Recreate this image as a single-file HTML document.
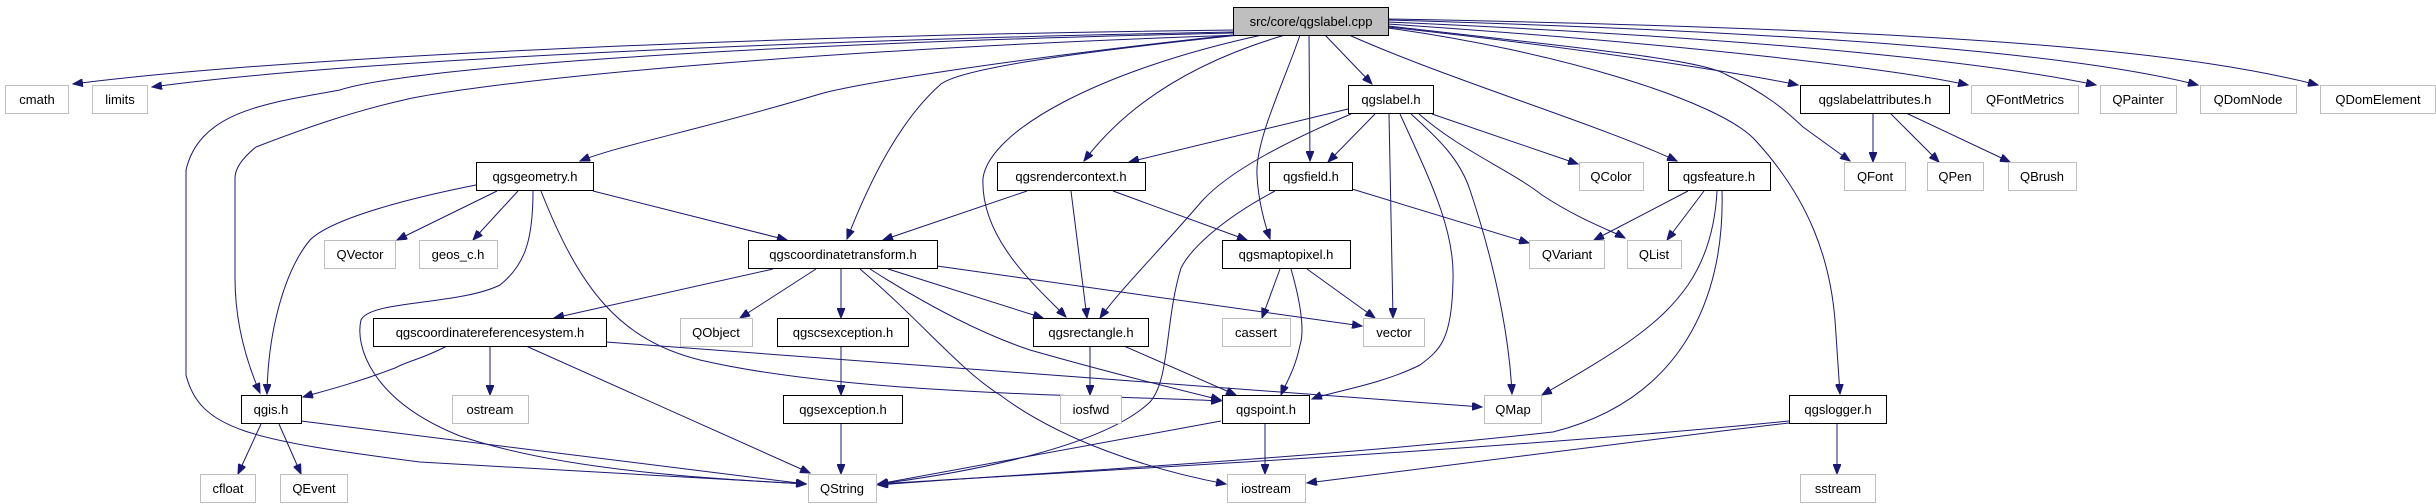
<!DOCTYPE html>
<html><head><meta charset="utf-8"><style>
html,body{margin:0;padding:0;background:#fff;}
svg{display:block;}
text{font-family:"Liberation Sans",sans-serif;font-size:13px;fill:#000;text-anchor:middle;}
.e{fill:none;stroke:#191970;stroke-width:1;marker-end:url(#a);}
.d{fill:#fff;stroke:#000;stroke-width:1;}
.l{fill:#fff;stroke:#bfbfbf;stroke-width:1;}
</style></head><body>
<svg width="2436" height="504" viewBox="0 0 2436 504" xmlns="http://www.w3.org/2000/svg">
<defs><marker id="a" markerUnits="userSpaceOnUse" markerWidth="11" markerHeight="8" refX="10" refY="4" orient="auto"><path d="M0,0 L10,4 L0,8 z" fill="#191970" stroke="#191970"/></marker></defs>
<g>
<!-- main edges -->
<path class="e" d="M1233,30 C800,35 300,55 73,84"/>
<path class="e" d="M1233,32 C800,40 350,60 152,87"/>
<path class="e" d="M1233,33 C700,45 400,70 340,90 C270,103 200,110 186,170 L186,375 C200,430 250,440 420,462 L806,484"/>
<path class="e" d="M1240,35 C800,50 500,80 408,99 C350,112 300,130 256,147 C240,160 235,170 235,178 L235,278 C235,330 250,370 260,393"/>
<path class="e" d="M1233,35 C1000,60 850,85 820,94 C700,130 620,145 580,161"/>
<path class="e" d="M1240,35 C1050,55 960,70 941,84 C900,120 870,180 847,239"/>
<path class="e" d="M1262,35 C1100,70 990,130 983,178 C980,240 1040,290 1066,317"/>
<path class="e" d="M1285,35 C1200,60 1130,100 1084,161"/>
<path class="e" d="M1300,35 C1285,80 1255,140 1257,175 C1258,200 1265,225 1270,239"/>
<path class="e" d="M1309,35 L1310,161"/>
<path class="e" d="M1325,35 L1372,84"/>
<path class="e" d="M1349,35 C1450,80 1600,125 1677,161"/>
<path class="e" d="M1388,28 C1550,50 1720,100 1756,141 C1810,200 1830,260 1835,320 L1840,394"/>
<path class="e" d="M1388,27 C1600,50 1750,75 1798,85"/>
<path class="e" d="M1388,26 C1600,50 1700,60 1725,74 C1770,95 1790,115 1803,127 L1850,161"/>
<path class="e" d="M1388,24 C1700,45 1900,70 1968,85"/>
<path class="e" d="M1388,22 C1800,40 2000,65 2096,85"/>
<path class="e" d="M1388,20 C1900,35 2100,60 2198,85"/>
<path class="e" d="M1388,19 C2000,30 2200,55 2318,85"/>
<!-- qgsgeometry -->
<path class="e" d="M497,191 L397,240"/>
<path class="e" d="M518,191 L473,240"/>
<path class="e" d="M593,191 L787,240"/>
<path class="e" d="M476,185 C400,200 330,220 310,240 C285,270 268,330 267,394"/>
<path class="e" d="M533,191 C533,240 525,265 500,285 C460,305 370,300 361,320 C355,345 370,400 460,436 C560,470 700,478 806,484"/>
<path class="e" d="M541,191 C580,290 620,340 700,360 C850,395 1100,395 1221,401"/>
<!-- qgscoordinatetransform -->
<path class="e" d="M773,269 L554,318"/>
<path class="e" d="M816,269 L740,318"/>
<path class="e" d="M841,269 L841,318"/>
<path class="e" d="M888,269 L1043,318"/>
<path class="e" d="M937,266 L1362,326"/>
<path class="e" d="M870,269 C950,320 1000,340 1030,350 C1100,370 1180,390 1221,400"/>
<path class="e" d="M860,269 C920,320 960,370 1000,395 C1060,440 1150,470 1226,484"/>
<!-- qgsrendercontext -->
<path class="e" d="M1027,191 L883,240"/>
<path class="e" d="M1071,191 L1087,318"/>
<path class="e" d="M1113,191 L1247,240"/>
<!-- qgslabel -->
<path class="e" d="M1348,109 L1129,162"/>
<path class="e" d="M1351,114 C1290,140 1230,170 1202,201 C1160,250 1120,290 1100,318"/>
<path class="e" d="M1375,114 L1328,162"/>
<path class="e" d="M1389,114 L1393,318"/>
<path class="e" d="M1400,114 C1430,180 1455,230 1453,280 C1452,340 1440,350 1420,365 C1380,385 1330,392 1312,399"/>
<path class="e" d="M1411,114 C1440,140 1460,160 1470,190 C1500,280 1510,350 1512,394"/>
<path class="e" d="M1432,114 L1578,164"/>
<path class="e" d="M1419,114 C1460,150 1510,170 1542,195 C1580,220 1610,230 1625,238"/>
<!-- qgsfield -->
<path class="e" d="M1352,189 L1529,243"/>
<path class="e" d="M1275,191 C1220,220 1190,250 1181,268 C1165,320 1170,380 1150,402 C1100,450 950,475 878,484"/>
<!-- qgsmaptopixel -->
<path class="e" d="M1280,269 L1262,318"/>
<path class="e" d="M1307,269 L1375,318"/>
<path class="e" d="M1291,269 C1300,300 1305,330 1300,345 C1295,370 1285,385 1281,395"/>
<!-- qgsfeature -->
<path class="e" d="M1688,191 L1594,240"/>
<path class="e" d="M1704,191 L1667,240"/>
<path class="e" d="M1717,191 C1715,230 1705,260 1688,285 C1660,325 1620,350 1542,395"/>
<path class="e" d="M1722,191 C1725,300 1680,400 1553,432 C1300,460 1000,475 878,485"/>
<!-- crs -->
<path class="e" d="M447,346 C420,360 410,360 395,368 C350,385 320,392 303,397"/>
<path class="e" d="M490,346 L490,395"/>
<path class="e" d="M526,346 L810,473"/>
<path class="e" d="M606,342 L1482,407"/>
<!-- exceptions -->
<path class="e" d="M841,346 L841,395"/>
<path class="e" d="M841,424 L841,474"/>
<!-- qgsrectangle -->
<path class="e" d="M1090,346 L1090,395"/>
<path class="e" d="M1124,346 L1236,395"/>
<!-- qgis -->
<path class="e" d="M261,424 L238,474"/>
<path class="e" d="M279,424 L301,474"/>
<path class="e" d="M301,421 L806,484"/>
<!-- qgspoint -->
<path class="e" d="M1221,421 L878,484"/>
<path class="e" d="M1265,424 L1265,474"/>
<!-- qgslogger -->
<path class="e" d="M1837,424 L1837,474"/>
<path class="e" d="M1789,421 C1500,450 1100,470 878,484"/>
<path class="e" d="M1789,423 C1600,445 1400,470 1307,483"/>
<!-- qgslabelattributes -->
<path class="e" d="M1873,113 L1873,162"/>
<path class="e" d="M1890,113 L1939,162"/>
<path class="e" d="M1906,113 L2010,162"/>
</g>
<g>
<rect x="1233.5" y="7.5" width="155" height="28" fill="#bfbfbf" stroke="#000"/><text x="1311" y="26">src/core/qgslabel.cpp</text>
<rect class="l" x="5.5" y="85.5" width="63" height="28"/><text x="37" y="104">cmath</text>
<rect class="l" x="92.5" y="85.5" width="55" height="28"/><text x="120" y="104">limits</text>
<rect class="d" x="1348.5" y="85.5" width="85" height="28"/><text x="1391" y="104">qgslabel.h</text>
<rect class="d" x="1800.5" y="85.5" width="149" height="28"/><text x="1875" y="104">qgslabelattributes.h</text>
<rect class="l" x="1971.5" y="85.5" width="107" height="28"/><text x="2025" y="104">QFontMetrics</text>
<rect class="l" x="2100.5" y="85.5" width="76" height="28"/><text x="2138" y="104">QPainter</text>
<rect class="l" x="2200.5" y="85.5" width="96" height="28"/><text x="2248" y="104">QDomNode</text>
<rect class="l" x="2320.5" y="85.5" width="115" height="28"/><text x="2378" y="104">QDomElement</text>
<rect class="d" x="476.5" y="162.5" width="117" height="28"/><text x="535" y="181">qgsgeometry.h</text>
<rect class="d" x="997.5" y="162.5" width="148" height="28"/><text x="1071" y="181">qgsrendercontext.h</text>
<rect class="d" x="1269.5" y="162.5" width="83" height="28"/><text x="1311" y="181">qgsfield.h</text>
<rect class="l" x="1579.5" y="162.5" width="64" height="28"/><text x="1611" y="181">QColor</text>
<rect class="d" x="1668.5" y="162.5" width="102" height="28"/><text x="1719" y="181">qgsfeature.h</text>
<rect class="l" x="1844.5" y="162.5" width="61" height="28"/><text x="1875" y="181">QFont</text>
<rect class="l" x="1927.5" y="162.5" width="56" height="28"/><text x="1955" y="181">QPen</text>
<rect class="l" x="2008.5" y="162.5" width="68" height="28"/><text x="2042" y="181">QBrush</text>
<rect class="l" x="324.5" y="240.5" width="71" height="28"/><text x="360" y="259">QVector</text>
<rect class="l" x="419.5" y="240.5" width="78" height="28"/><text x="458" y="259">geos_c.h</text>
<rect class="d" x="748.5" y="240.5" width="189" height="28"/><text x="843" y="259">qgscoordinatetransform.h</text>
<rect class="d" x="1222.5" y="240.5" width="128" height="28"/><text x="1286" y="259">qgsmaptopixel.h</text>
<rect class="l" x="1529.5" y="240.5" width="75" height="28"/><text x="1567" y="259">QVariant</text>
<rect class="l" x="1627.5" y="240.5" width="54" height="28"/><text x="1654" y="259">QList</text>
<rect class="d" x="373.5" y="318.5" width="233" height="28"/><text x="490" y="337">qgscoordinatereferencesystem.h</text>
<rect class="l" x="680.5" y="318.5" width="72" height="28"/><text x="716" y="337">QObject</text>
<rect class="d" x="777.5" y="318.5" width="131" height="28"/><text x="843" y="337">qgscsexception.h</text>
<rect class="d" x="1033.5" y="318.5" width="115" height="28"/><text x="1091" y="337">qgsrectangle.h</text>
<rect class="l" x="1222.5" y="318.5" width="68" height="28"/><text x="1256" y="337">cassert</text>
<rect class="l" x="1363.5" y="318.5" width="61" height="28"/><text x="1394" y="337">vector</text>
<rect class="d" x="241.5" y="395.5" width="60" height="28"/><text x="271" y="414">qgis.h</text>
<rect class="l" x="452.5" y="395.5" width="76" height="28"/><text x="490" y="414">ostream</text>
<rect class="d" x="783.5" y="395.5" width="119" height="28"/><text x="843" y="414">qgsexception.h</text>
<rect class="l" x="1060.5" y="395.5" width="61" height="28"/><text x="1091" y="414">iosfwd</text>
<rect class="d" x="1222.5" y="395.5" width="87" height="28"/><text x="1266" y="414">qgspoint.h</text>
<rect class="l" x="1484.5" y="395.5" width="57" height="28"/><text x="1513" y="414">QMap</text>
<rect class="d" x="1789.5" y="395.5" width="97" height="28"/><text x="1838" y="414">qgslogger.h</text>
<rect class="l" x="200.5" y="474.5" width="55" height="28"/><text x="228" y="493">cfloat</text>
<rect class="l" x="280.5" y="474.5" width="67" height="28"/><text x="314" y="493">QEvent</text>
<rect class="l" x="808.5" y="474.5" width="68" height="28"/><text x="842" y="493">QString</text>
<rect class="l" x="1227.5" y="474.5" width="78" height="28"/><text x="1266" y="493">iostream</text>
<rect class="l" x="1800.5" y="474.5" width="75" height="28"/><text x="1838" y="493">sstream</text>
</g>
</svg>
</body></html>
